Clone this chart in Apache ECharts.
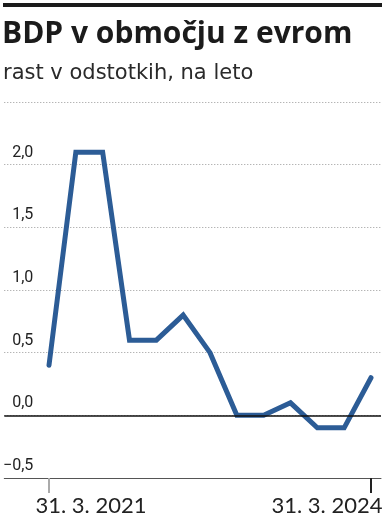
<!DOCTYPE html>
<html>
<head>
<meta charset="utf-8">
<script src="https://cdn.jsdelivr.net/npm/echarts@6/dist/echarts.min.js"></script>
<style>
html,body{margin:0;padding:0;background:#fff;}
#chart{width:392px;height:523px;}
</style>
</head>
<body>
<div id="chart"></div>
<script>
const categories = ["31. 3. 2021","30. 6. 2021","30. 9. 2021","31. 12. 2021","31. 3. 2022","30. 6. 2022","30. 9. 2022","31. 12. 2022","31. 3. 2023","30. 6. 2023","30. 9. 2023","31. 12. 2023","31. 3. 2024"];
const growth = [0.4, 2.1, 2.1, 0.6, 0.6, 0.8, 0.5, 0.0, 0.0, 0.1, -0.1, -0.1, 0.3];
const yTicks = [-0.5, 0, 0.5, 1, 1.5, 2, 2.5];
const titleText = "BDP v območju z evrom";
const subtitleText = "rast v odstotkih, na leto";

const chart = echarts.init(document.getElementById('chart'), null, {renderer:'canvas'});
const lastIdx = categories.length - 1;
const yMin = yTicks[0], yMax = yTicks[yTicks.length-1];

const option = {
  animation: false,
  backgroundColor: '#fff',
  title: [
    {text: titleText, left: 2, top: 19, padding: 0,
     textStyle: {fontFamily: 'Open Sans', fontWeight: 'bold', fontSize: 30, color: '#1b1b1b'}},
    {text: subtitleText, left: 3, top: 63, padding: 0,
     textStyle: {fontFamily: '"DejaVu Sans ExtraLight", "DejaVu Sans"', fontWeight: 'normal', fontSize: 21, color: '#2a2a2a'}}
  ],
  graphic: [
    {type: 'rect', shape: {x: 3, y: 3, width: 379, height: 4}, style: {fill: '#1b1b1b'}, silent: true}
  ],
  grid: [
    {left: 4, right: 11, top: 102, bottom: 45},
    {left: 49, right: 21, top: 102, bottom: 45}
  ],
  xAxis: [
    {type: 'value', gridIndex: 0, min: 0, max: 1, show: true,
     axisLine: {show: true, onZero: false, lineStyle: {color: '#555', width: 1}},
     axisTick: {show: false}, axisLabel: {show: false}, splitLine: {show: false}},
    {type: 'category', gridIndex: 1, data: categories, boundaryGap: false, position: 'bottom',
     axisLine: {show: false, onZero: false},
     axisTick: {show: true, length: 15, interval: (i) => i === 0, lineStyle: {color: '#aaa', width: 2}},
     axisLabel: {
       show: true, margin: 17, interval: (i) => i === 0 || i === lastIdx,
       formatter: (v, i) => i === 0 ? '{l|' + v + '}' : '{r|' + v + '}',
       rich: {
         l: {fontFamily: 'Lato', fontSize: 22, color: '#222', padding: [0, 0, 0, 84]},
         r: {fontFamily: 'Lato', fontSize: 22, color: '#222', padding: [0, 88, 0, 0]}
       }
     },
     splitLine: {show: false}},
    {type: 'category', gridIndex: 1, data: categories, boundaryGap: false, position: 'bottom',
     axisLine: {show: false, onZero: false},
     axisTick: {show: true, length: 15, interval: (i) => i === lastIdx, lineStyle: {color: '#222', width: 2}},
     axisLabel: {show: false}, splitLine: {show: false}}
  ],
  yAxis: [
    {type: 'value', gridIndex: 0, min: yMin, max: yMax, interval: 0.5,
     axisLine: {show: false}, axisTick: {show: false},
     splitLine: {show: true, lineStyle: {color: '#999', width: 1, type: [1, 2]}},
     axisLabel: {
       show: true, inside: true, margin: 29, align: 'right', verticalAlign: 'bottom',
       padding: [0, 0, 4, 0], lineHeight: 16,
       fontFamily: 'Liberation Sans Narrow, Roboto, sans-serif', fontSize: 16, color: '#222',
       formatter: (v) => v >= yMax ? '' : (v < 0 ? '\u2212' : '') + Math.abs(v).toFixed(1).replace('.', ',')
     }},
    {type: 'value', gridIndex: 1, min: yMin, max: yMax, interval: 0.5, show: false,
     splitLine: {show: false}}
  ],
  series: [
    {type: 'line', xAxisIndex: 0, yAxisIndex: 0, data: [], silent: true,
     markLine: {silent: true, symbol: 'none', label: {show: false},
       lineStyle: {color: '#111', width: 1.5, type: 'solid'}, data: [{yAxis: 0}]}},
    {type: 'line', xAxisIndex: 1, yAxisIndex: 1, data: growth, symbol: 'none',
     lineStyle: {color: '#2c5c96', width: 5, join: 'miter', cap: 'round'}}
  ]
};
chart.setOption(option);
</script>
</body>
</html>
